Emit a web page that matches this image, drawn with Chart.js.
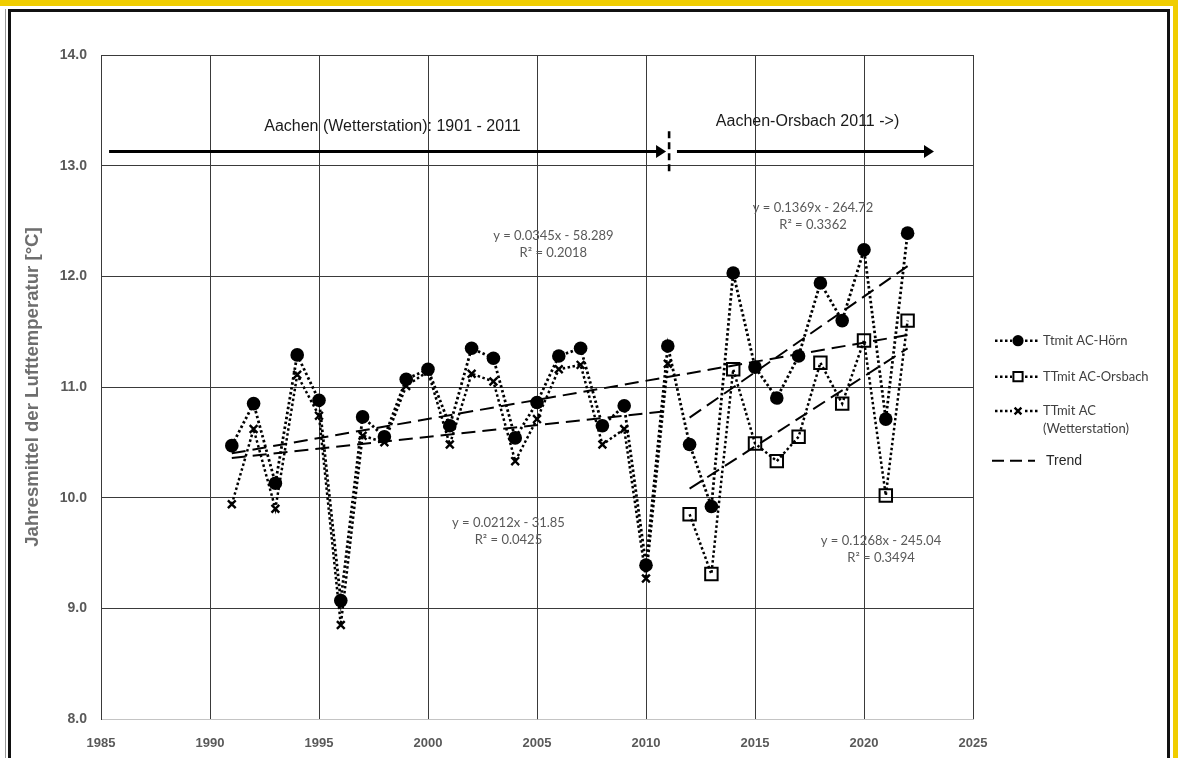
<!DOCTYPE html>
<html>
<head>
<meta charset="utf-8">
<title>Jahresmittel der Lufttemperatur Aachen</title>
<script src="https://cdn.jsdelivr.net/npm/chart.js@4.4.1/dist/chart.umd.min.js"></script>
<style>
  html, body { margin: 0; padding: 0; background: #ffffff; }
  #wrap { position: relative; width: 1178px; height: 758px; overflow: hidden; background: #ffffff; }
  .band { position: absolute; }
  #yTop { left: 0; top: 0; width: 1178px; height: 6px; background: #f0cd00; }
  #yRight { left: 1173px; top: 0; width: 5px; height: 758px; background: #f0cd00; }
  #gLeft { left: 5px; top: 9px; width: 1px; height: 749px; background: #9a9a9a; }
  #bTop { left: 8px; top: 9px; width: 1162px; height: 3px; background: #111111; }
  #bLeft { left: 8px; top: 9px; width: 3px; height: 749px; background: #111111; }
  #bRight { left: 1167px; top: 9px; width: 3px; height: 749px; background: #111111; }
  canvas { position: absolute; left: 0; top: 0; }
</style>
</head>
<body>
<div id="wrap">
  <div class="band" id="yTop"></div>
  <div class="band" id="yRight"></div>
  <div class="band" id="gLeft"></div>
  <div class="band" id="bTop"></div>
  <div class="band" id="bLeft"></div>
  <div class="band" id="bRight"></div>
  <canvas id="chart" width="1178" height="758"></canvas>
</div>
<script>
// Jahresmittel der Lufttemperatur (°C)
const hoernYears = [1991, 1992, 1993, 1994, 1995, 1996, 1997, 1998, 1999, 2000,
                    2001, 2002, 2003, 2004, 2005, 2006, 2007, 2008, 2009, 2010,
                    2011, 2012, 2013, 2014, 2015, 2016, 2017, 2018, 2019, 2020,
                    2021, 2022];
const hoernTemp = [10.47, 10.85, 10.13, 11.29, 10.88, 9.07, 10.73, 10.55, 11.07, 11.16,
                   10.65, 11.35, 11.26, 10.54, 10.86, 11.28, 11.35, 10.65, 10.83, 9.39,
                   11.37, 10.48, 9.92, 12.03, 11.18, 10.90, 11.28, 11.94, 11.60, 12.24,
                   10.71, 12.39];

const orsbachYears = [2012, 2013, 2014, 2015, 2016, 2017, 2018, 2019, 2020, 2021, 2022];
const orsbachTemp = [9.85, 9.31, 11.16, 10.49, 10.33, 10.55, 11.22, 10.85, 11.42, 10.02, 11.60];

const wetterYears = [1991, 1992, 1993, 1994, 1995, 1996, 1997, 1998, 1999, 2000,
                     2001, 2002, 2003, 2004, 2005, 2006, 2007, 2008, 2009, 2010, 2011];
const wetterTemp = [9.94, 10.62, 9.90, 11.11, 10.74, 8.85, 10.56, 10.50, 11.01, 11.14,
                    10.48, 11.12, 11.05, 10.33, 10.71, 11.16, 11.20, 10.48, 10.62, 9.27, 11.21];

// Linear trends y = m·x + b and the year range each one spans
const trendNames = ['Hörn 1991-2022', 'Hörn 2012-2022', 'Wetterstation', 'Orsbach'];
const trendSlopes = [0.0345, 0.1369, 0.0212, 0.1268];
const trendIntercepts = [-58.289, -264.72, -31.85, -245.04];
const trendRSquared = ['0.2018', '0.3362', '0.0425', '0.3494'];
const trendFrom = [1991, 2012, 1991, 2012];
const trendTo = [2022, 2022, 2011, 2022];

// Axis ticks
const yearTicks = [1985, 1990, 1995, 2000, 2005, 2010, 2015, 2020, 2025];
const tempTicks = [8, 9, 10, 11, 12, 13, 14];

const legendLabels = ['Ttmit AC-Hörn', 'TTmit AC-Orsbach', ['TTmit AC', '(Wetterstation)'], 'Trend'];

// ---------------------------------------------------------------------------
const pairs = (xs, ys) => xs.map((x, i) => ({ x: x, y: ys[i] }));
const fmtCoef = (v) => String(v);

const DOT = [2.5, 2.5];
const seriesDatasets = [
  {
    label: legendLabels[0],
    data: pairs(hoernYears, hoernTemp),
    showLine: true,
    borderColor: '#000000',
    borderWidth: 2.8,
    borderDash: DOT,
    pointStyle: 'circle',
    pointRadius: 6.8,
    pointBackgroundColor: '#000000',
    pointBorderColor: '#000000',
    pointBorderWidth: 0,
    order: 1
  },
  {
    label: legendLabels[1],
    data: pairs(orsbachYears, orsbachTemp),
    showLine: true,
    borderColor: '#000000',
    borderWidth: 2.5,
    borderDash: DOT,
    pointStyle: 'rect',
    pointRadius: 8.8,
    pointBackgroundColor: 'rgba(255,255,255,0)',
    pointBorderColor: '#000000',
    pointBorderWidth: 2,
    order: 2
  },
  {
    label: 'TTmit AC (Wetterstation)',
    data: pairs(wetterYears, wetterTemp),
    showLine: true,
    borderColor: '#000000',
    borderWidth: 2.5,
    borderDash: DOT,
    pointStyle: 'crossRot',
    pointRadius: 5.5,
    pointBorderColor: '#000000',
    pointBorderWidth: 2.4,
    order: 3
  }
];

const trendDatasets = trendSlopes.map((m, i) => ({
  label: 'Trend ' + trendNames[i],
  data: [
    { x: trendFrom[i], y: m * trendFrom[i] + trendIntercepts[i] },
    { x: trendTo[i], y: m * trendTo[i] + trendIntercepts[i] }
  ],
  showLine: true,
  borderColor: '#000000',
  borderWidth: 2,
  borderDash: [14, 7],
  pointRadius: 0,
  order: 0
}));

// Station periods, equation labels and legend
const periodText = [
  { text: 'Aachen (Wetterstation): 1901 - 2011', x: 1998.37, y: 13.357 },
  { text: 'Aachen-Orsbach 2011 ->)', x: 2017.41, y: 13.394 }
];
const periodArrows = [
  { from: 1985.37, to: 2010.92, y: 13.127 },
  { from: 2011.42, to: 2023.21, y: 13.127 }
];
const periodSplit = { x: 2011.06, y0: 13.31, y1: 12.95 };
const equationPos = [
  { x: 2005.75, y: 12.364 },
  { x: 2017.66, y: 12.617 },
  { x: 2003.69, y: 9.774 },
  { x: 2020.78, y: 9.608 }
];

const overlay = {
  id: 'overlay',
  afterDraw(chart) {
    const ctx = chart.ctx;
    const xs = chart.scales.x, ys = chart.scales.y;
    const px = (v) => xs.getPixelForValue(v);
    const py = (v) => ys.getPixelForValue(v);
    ctx.save();

    // period arrows
    ctx.strokeStyle = '#000000';
    ctx.fillStyle = '#000000';
    periodArrows.forEach((a) => {
      const x0 = px(a.from), x1 = px(a.to), y = py(a.y);
      ctx.setLineDash([]);
      ctx.lineWidth = 3;
      ctx.beginPath();
      ctx.moveTo(x0, y);
      ctx.lineTo(x1 - 8, y);
      ctx.stroke();
      ctx.beginPath();
      ctx.moveTo(x1, y);
      ctx.lineTo(x1 - 10, y - 6.5);
      ctx.lineTo(x1 - 10, y + 6.5);
      ctx.closePath();
      ctx.fill();
    });
    ctx.lineWidth = 2.6;
    ctx.setLineDash([7, 4]);
    ctx.beginPath();
    ctx.moveTo(px(periodSplit.x), py(periodSplit.y0));
    ctx.lineTo(px(periodSplit.x), py(periodSplit.y1));
    ctx.stroke();
    ctx.setLineDash([]);

    ctx.font = '16px "Liberation Sans", Arial, sans-serif';
    ctx.fillStyle = '#1a1a1a';
    ctx.textAlign = 'center';
    ctx.textBaseline = 'middle';
    periodText.forEach((t) => ctx.fillText(t.text, px(t.x), py(t.y)));

    // trend equations
    ctx.font = '13px Lato, "Open Sans", sans-serif';
    ctx.fillStyle = '#595959';
    equationPos.forEach((p, i) => {
      const b = trendIntercepts[i];
      const eq = 'y = ' + fmtCoef(trendSlopes[i]) + 'x ' + (b < 0 ? '- ' : '+ ') + fmtCoef(Math.abs(b));
      const cx = px(p.x), cy = py(p.y);
      ctx.fillText(eq, cx, cy);
      ctx.fillText('R\u00B2 = ' + trendRSquared[i], cx, cy + 17);
    });

    // legend
    const lx0 = chart.chartArea.right + 22;
    const lx1 = lx0 + 43;
    const mx = lx0 + 23;
    const tx = lx0 + 48;
    const rows = [340.7, 376.7, 411, 460.7];
    const markers = [
      { pointStyle: 'circle', radius: 5.6, borderWidth: 0, fill: '#000000' },
      { pointStyle: 'rect', radius: 6.5, borderWidth: 2, fill: 'rgba(255,255,255,0)' },
      { pointStyle: 'crossRot', radius: 4.8, borderWidth: 2.4, fill: '#000000' }
    ];
    for (let i = 0; i < 3; i++) {
      const y = rows[i];
      ctx.strokeStyle = '#000000';
      ctx.lineWidth = 2.4;
      ctx.setLineDash(DOT);
      ctx.beginPath();
      ctx.moveTo(lx0, y);
      ctx.lineTo(lx1, y);
      ctx.stroke();
      ctx.setLineDash([]);
      const mk = markers[i];
      ctx.fillStyle = '#ffffff';
      ctx.fillRect(mx - 6, y - 6, 12, 12);
      ctx.fillStyle = mk.fill;
      ctx.strokeStyle = '#000000';
      ctx.lineWidth = mk.borderWidth;
      Chart.helpers.drawPoint(ctx, { pointStyle: mk.pointStyle, rotation: 0, radius: mk.radius, borderWidth: mk.borderWidth }, mx, y);
    }
    ctx.textAlign = 'left';
    ctx.font = '13px Lato, "Open Sans", sans-serif';
    ctx.fillStyle = '#404040';
    ctx.fillText(legendLabels[0], tx, rows[0]);
    ctx.fillText(legendLabels[1], tx, rows[1]);
    ctx.fillText(legendLabels[2][0], tx, rows[2]);
    ctx.fillText(legendLabels[2][1], tx, rows[2] + 18);

    ctx.strokeStyle = '#000000';
    ctx.lineWidth = 2;
    ctx.setLineDash([12, 6]);
    ctx.beginPath();
    ctx.moveTo(lx0 - 3, rows[3]);
    ctx.lineTo(lx1 - 3, rows[3]);
    ctx.stroke();
    ctx.setLineDash([]);
    ctx.font = '14px "Liberation Sans", Arial, sans-serif';
    ctx.fillStyle = '#262626';
    ctx.fillText(legendLabels[3], tx + 3, rows[3]);

    ctx.restore();
  }
};

new Chart(document.getElementById('chart'), {
  type: 'scatter',
  data: { datasets: trendDatasets.concat(seriesDatasets) },
  options: {
    responsive: false,
    animation: false,
    devicePixelRatio: 1,
    layout: { padding: { left: 0, right: 205, top: 55, bottom: 0 } },
    plugins: {
      legend: { display: false },
      tooltip: { enabled: false },
      title: { display: false }
    },
    scales: {
      x: {
        type: 'linear',
        min: yearTicks[0],
        max: yearTicks[yearTicks.length - 1],
        afterBuildTicks: (s) => { s.ticks = yearTicks.map((v) => ({ value: v })); },
        afterFit: (s) => { s.height = 39; },
        ticks: {
          callback: (v) => String(v),
          font: { family: '"Liberation Sans", Arial, sans-serif', size: 13, weight: 'bold' },
          color: '#595959',
          padding: 17,
          maxRotation: 0
        },
        grid: { color: '#3a3a3a', lineWidth: 1, drawTicks: false },
        border: { display: true, color: '#c4c4c4', width: 1 }
      },
      y: {
        type: 'linear',
        min: tempTicks[0],
        max: tempTicks[tempTicks.length - 1],
        afterBuildTicks: (s) => { s.ticks = tempTicks.map((v) => ({ value: v })); },
        afterFit: (s) => { s.width = 101; },
        ticks: {
          callback: (v) => Number(v).toFixed(1),
          font: { family: '"Liberation Sans", Arial, sans-serif', size: 14, weight: 'bold' },
          color: '#595959',
          padding: 14
        },
        grid: { color: '#3a3a3a', lineWidth: 1, drawTicks: false },
        border: { display: true, color: '#3a3a3a', width: 1 },
        title: {
          display: true,
          text: 'Jahresmittel der Lufttemperatur [°C]',
          font: { family: '"Liberation Sans", Arial, sans-serif', size: 18.6, weight: 'bold' },
          color: '#6e6e6e',
          padding: { top: 21.8, bottom: 0 }
        }
      }
    }
  },
  plugins: [overlay]
});
</script>
</body>
</html>
